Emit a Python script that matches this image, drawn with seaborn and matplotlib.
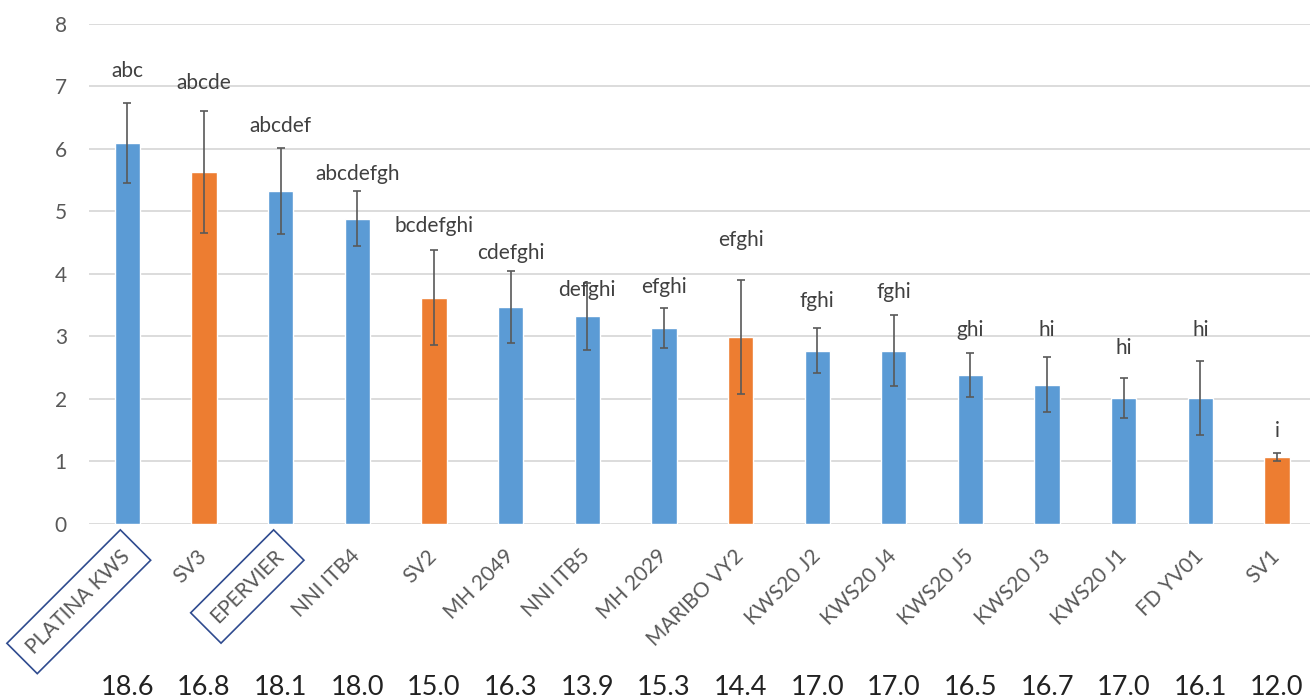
import matplotlib
matplotlib.use("Agg")
import matplotlib.pyplot as plt
import matplotlib.transforms as mtransforms
import seaborn as sns
import pandas as pd

# ---- data ----
varieties = ["PLATINA KWS", "SV3", "EPERVIER", "NNI ITB4", "SV2", "MH 2049",
             "NNI ITB5", "MH 2029", "MARIBO VY2", "KWS20 J2", "KWS20 J4",
             "KWS20 J5", "KWS20 J3", "KWS20 J1", "FD YV01", "SV1"]
groups = ["ref", "sv", "ref", "line", "sv", "line", "line", "line", "sv",
          "line", "line", "line", "line", "line", "line", "sv"]
means = [6.09, 5.63, 5.33, 4.88, 3.62, 3.47, 3.32, 3.14, 2.99, 2.77, 2.77,
         2.38, 2.23, 2.02, 2.02, 1.07]
errors = [0.64, 0.98, 0.69, 0.44, 0.76, 0.57, 0.54, 0.32, 0.91, 0.36, 0.57,
          0.35, 0.44, 0.32, 0.59, 0.07]
letters = ["abc", "abcde", "abcdef", "abcdefgh", "bcdefghi", "cdefghi",
           "defghi", "efghi", "efghi", "fghi", "fghi", "ghi", "hi", "hi",
           "hi", "i"]
letter_y = [7.25, 7.05, 6.36, 5.60, 4.76, 4.33, 3.74, 3.79, 4.55, 3.57, 3.71,
            3.10, 3.11, 2.81, 3.11, 1.49]
bottom_values = ["18.6", "16.8", "18.1", "18.0", "15.0", "16.3", "13.9", "15.3",
                 "14.4", "17.0", "17.0", "16.5", "16.7", "17.0", "16.1", "12.0"]
boxed = ["PLATINA KWS", "EPERVIER"]
y_ticks = [0, 1, 2, 3, 4, 5, 6, 7, 8]

BLUE = "#5B9BD5"
ORANGE = "#ED7D31"
palette = {"ref": BLUE, "line": BLUE, "sv": ORANGE}

df = pd.DataFrame({"variety": varieties, "group": groups, "mean": means})

sns.set_theme(style="white")
plt.rcParams["font.family"] = ["Lato", "DejaVu Sans"]

fig = plt.figure(figsize=(13.10, 6.99), dpi=100)
ax = fig.add_axes([0.068, 0.2504, 0.932, 0.7153])

sns.barplot(data=df, x="variety", y="mean", hue="group", palette=palette,
            dodge=False, width=0.33, errorbar=None, legend=False, ax=ax,
            saturation=1)

xpos = list(range(len(varieties)))
ax.errorbar(xpos, means, yerr=errors, fmt="none", ecolor="#595959",
            elinewidth=1.2, capsize=3.2, capthick=1.2, zorder=4)

for x, lab, ly in zip(xpos, letters, letter_y):
    ax.text(x, ly, lab, ha="center", va="center", fontsize=15,
            color="#404040", zorder=5)

ax.set_ylim(0, 8)
ax.set_xlim(-0.5, 15.43)
ax.set_yticks(y_ticks)
ax.set_yticklabels([str(t) for t in y_ticks])
ax.yaxis.grid(True, color="#D9D9D9", linewidth=1.3)
ax.set_axisbelow(True)
for s in ax.spines.values():
    s.set_visible(False)
ax.tick_params(axis="y", length=0, pad=16, labelsize=15, labelcolor="#595959")
ax.tick_params(axis="x", length=0, pad=21)
ax.set_xlabel("")
ax.set_ylabel("")

ax.set_xticks(xpos)
ax.set_xticklabels(varieties, rotation=45, ha="right", va="center",
                   rotation_mode="anchor", fontsize=15, color="#595959")
for t in ax.get_xticklabels():
    if t.get_text() in boxed:
        t.set_bbox(dict(boxstyle="square,pad=0.55", facecolor="none",
                        edgecolor="#2F4B8F", linewidth=1.2))

trans = mtransforms.blended_transform_factory(ax.transData, ax.transAxes)
for x, v in zip(xpos, bottom_values):
    ax.text(x, -0.328, v, transform=trans, ha="center", va="center",
            fontsize=19.5, color="#222222")

fig.savefig("out.png", dpi=100)
